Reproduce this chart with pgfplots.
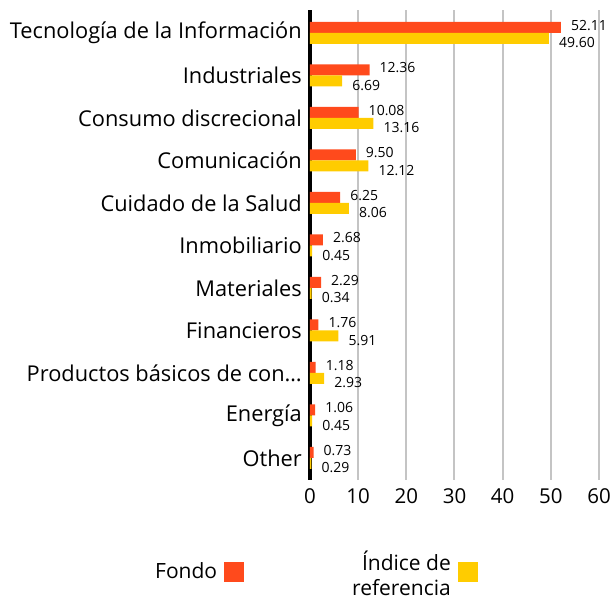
\documentclass[border=0pt]{standalone}
\usepackage{fontspec}
\setmainfont{Open Sans}
\usepackage{pgfplots}
\pgfplotsset{compat=1.18}
\definecolor{fondo}{HTML}{FF4A1C}
\definecolor{indice}{HTML}{FFCC00}
\definecolor{gridc}{HTML}{C4C4C4}
\begin{document}
\begin{tikzpicture}
\path[use as bounding box] (-310pt,-121pt) rectangle (302pt,480pt);
\begin{axis}[
  at={(0pt,0pt)}, anchor=south west,
  scale only axis, width=289pt, height=470pt,
  xbar, bar width=11pt, clip=false,
  xmin=0, xmax=60, ymin=-0.518, ymax=10.541,
  xtick={0,10,...,60}, ytick={0,...,10},
  yticklabels={Other, Energía, Productos básicos de con…, Financieros, Materiales, Inmobiliario, Cuidado de la Salud, Comunicación, Consumo discrecional, Industriales, Tecnología de la Información},
  major tick length=0pt,
  axis lines*=left,
  x axis line style={draw=none},
  y axis line style={black, line width=4pt},
  xmajorgrids, grid style={gridc, line width=2pt},
  /pgf/number format/assume math mode=true,
  yticklabel style={font=\fontsize{21.8}{24}\selectfont, anchor=east, inner sep=0pt, xshift=-8pt},
  xticklabel style={font=\fontsize{20.5}{24}\selectfont, anchor=north, inner sep=0pt, yshift=-8pt},
  legend plot pos=right,
  legend cell align=right,
  legend image code/.code={\fill[#1] (0pt,-10pt) rectangle (20pt,10pt);},
  legend style={draw=none, fill=none, legend columns=2,
    at={(axis description cs:-0.5363,-0.1600)}, anchor=north west,
    font=\fontsize{21}{24}\selectfont, inner sep=0pt,
    nodes={inner sep=0pt},
    /tikz/every odd column/.append style={column sep=7pt},
    /tikz/every even column/.append style={column sep=108pt}},
  every node near coord/.append style={font=\fontsize{14}{16}\selectfont, anchor=west, inner sep=0pt, xshift=10pt},
  nodes near coords={\pgfmathprintnumber[fixed,zerofill,precision=2,assume math mode=true]{\pgfplotspointmeta}},
]
\addplot[fill=fondo, draw=none, bar shift=5.5pt,
  every node near coord/.append style={yshift=2pt}]
  coordinates {(0.73,0) (1.06,1) (1.18,2) (1.76,3) (2.29,4) (2.68,5) (6.25,6) (9.50,7) (10.08,8) (12.36,9) (52.11,10)};
\addlegendentry{Fondo}
\addplot[fill=indice, draw=none, bar shift=-5.5pt,
  every node near coord/.append style={yshift=-4.5pt}]
  coordinates {(0.29,0) (0.45,1) (2.93,2) (5.91,3) (0.34,4) (0.45,5) (8.06,6) (12.12,7) (13.16,8) (6.69,9) (49.60,10)};
\addlegendentry{\raisebox{4pt}[\height][0pt]{\begin{tabular}{@{}r@{}}Índice de\\[1pt]referencia\end{tabular}}}
\end{axis}
\end{tikzpicture}
\end{document}
